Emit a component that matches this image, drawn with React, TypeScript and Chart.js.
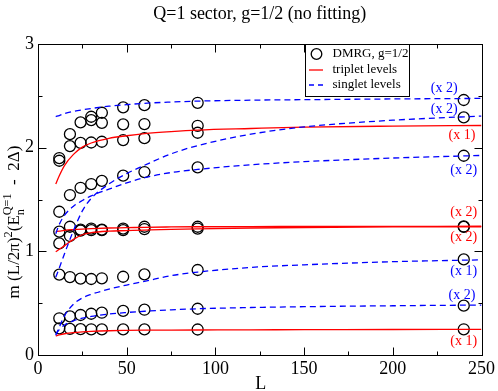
import React, { useEffect, useRef } from "react";
import { Chart, registerables } from "chart.js";

Chart.register(...registerables);

// ---------- data ----------
const titleText = "Q=1 sector, g=1/2 (no fitting)";
const xAxisTitle = "L";
const xTickValues = [0, 50, 100, 150, 200, 250];
const yTickValues = [0, 1, 2, 3];

// DMRG data (circles)
const dmrgL = [12, 18, 24, 30, 36, 48, 60, 90, 240];
const dmrgLevel1 = [0.257, 0.252, 0.249, 0.248, 0.247, 0.247, 0.247, 0.246, 0.248];
const dmrgLevel2 = [0.354, 0.372, 0.386, 0.398, 0.408, 0.425, 0.437, 0.446, 0.476];
const dmrgLevel3 = [0.776, 0.752, 0.737, 0.733, 0.74, 0.755, 0.778, 0.82, 0.922];
const dmrgLevel4 = [1.077, 1.148, 1.2, 1.205, 1.205, 1.205, 1.215, 1.22, 1.235];
const dmrgLevel5 = [1.19, 1.237, 1.21, 1.22, 1.21, 1.22, 1.237, 1.237, 1.24];
const dmrgLevel6 = [1.382, 1.543, 1.613, 1.649, 1.68, 1.73, 1.765, 1.81, 1.922];
const dmrgLevel7 = [1.874, 2.015, 2.046, 2.05, 2.057, 2.073, 2.092, 2.144, 2.292];
const dmrgLevel8 = [1.9, 2.13, 2.244, 2.266, 2.24, 2.225, 2.228, 2.211, null];
const dmrgLevel9 = [null, null, null, 2.298, 2.337, 2.389, 2.41, 2.433, 2.46];

// theory curves, sampled at curveL
const curveL = [10, 12, 15, 20, 25, 30, 40, 50, 60, 75, 90, 120, 150, 200, 250];
const triplet1 = [0.184, 0.194, 0.205, 0.216, 0.223, 0.228, 0.234, 0.237, 0.239, 0.24, 0.241, 0.243, 0.244, 0.246, 0.247];
const triplet2 = [0.996, 1.02, 1.055, 1.115, 1.16, 1.18, 1.195, 1.2, 1.205, 1.212, 1.217, 1.225, 1.23, 1.235, 1.237];
const triplet3 = [1.19, 1.195, 1.203, 1.21, 1.215, 1.219, 1.225, 1.228, 1.232, 1.235, 1.237, 1.239, 1.24, 1.241, 1.242];
const triplet4 = [1.65, 1.73, 1.83, 1.935, 2.005, 2.045, 2.09, 2.115, 2.135, 2.155, 2.17, 2.185, 2.198, 2.208, 2.214];
const singlet1 = [0.2, 0.245, 0.29, 0.33, 0.355, 0.372, 0.395, 0.41, 0.422, 0.436, 0.446, 0.458, 0.466, 0.475, 0.482];
const singlet2 = [0.19, 0.27, 0.38, 0.49, 0.55, 0.585, 0.635, 0.675, 0.71, 0.765, 0.8, 0.845, 0.87, 0.9, 0.918];
const singlet3 = [1.17, 1.26, 1.35, 1.435, 1.49, 1.535, 1.6, 1.66, 1.71, 1.76, 1.79, 1.835, 1.865, 1.9, 1.925];
const singlet4 = [0.75, 0.84, 0.98, 1.2, 1.39, 1.51, 1.65, 1.75, 1.83, 1.94, 2.02, 2.13, 2.2, 2.265, 2.305];
const singlet5 = [2.3, 2.31, 2.33, 2.35, 2.365, 2.378, 2.4, 2.415, 2.428, 2.44, 2.449, 2.458, 2.463, 2.47, 2.475];

// degeneracy annotations
const degText = ["(x 2)", "(x 2)", "(x 1)", "(x 2)", "(x 2)", "(x 2)", "(x 1)", "(x 2)", "(x 1)"];
const degKind = ["s", "s", "t", "s", "t", "t", "s", "s", "t"];
const degL = [229, 229, 239, 240, 240, 240, 240, 239, 240];
const degY = [2.575, 2.372, 2.12, 1.784, 1.376, 1.131, 0.81, 0.572, 0.128];

const legendLabels = ["DMRG, g=1/2", "triplet levels", "singlet levels"];

const RED = "#ff0000";
const BLUE = "#0000ff";
const SERIF = "'Liberation Serif', 'Times New Roman', serif";

function pts(xs: number[], ys: (number | null)[]) {
  const out: { x: number; y: number }[] = [];
  ys.forEach((v, i) => {
    if (v !== null && v !== undefined) out.push({ x: xs[i], y: v });
  });
  return out;
}

const decorPlugin = {
  id: "decor",
  afterDatasetsDraw(chart: any) {
    const ctx = chart.ctx as CanvasRenderingContext2D;
    const a = chart.chartArea;
    const xs = chart.scales.x;
    const ys = chart.scales.y;
    ctx.save();

    // degeneracy labels
    ctx.font = `14px ${SERIF}`;
    ctx.textAlign = "center";
    ctx.textBaseline = "middle";
    degText.forEach((t, i) => {
      ctx.fillStyle = degKind[i] === "s" ? BLUE : RED;
      ctx.fillText(t, xs.getPixelForValue(degL[i]), ys.getPixelForValue(degY[i]));
    });

    // frame
    ctx.strokeStyle = "#000";
    ctx.lineWidth = 1;
    const L = Math.round(a.left) + 0.5;
    const R = Math.round(a.right) + 0.5;
    const T = Math.round(a.top) + 0.5;
    const B = Math.round(a.bottom) + 0.5;
    ctx.strokeRect(L, T, R - L, B - T);

    // ticks (inward)
    ctx.beginPath();
    for (let v = 25; v < 250; v += 25) {
      const len = v % 50 === 0 ? 8 : 4;
      const px = Math.round(xs.getPixelForValue(v)) + 0.5;
      ctx.moveTo(px, B);
      ctx.lineTo(px, B - len);
      ctx.moveTo(px, T);
      ctx.lineTo(px, T + len);
    }
    for (let v = 0.5; v < 3; v += 0.5) {
      const len = Math.abs(v - Math.round(v)) < 1e-6 ? 8 : 4;
      const py = Math.round(ys.getPixelForValue(v)) + 0.5;
      ctx.moveTo(L, py);
      ctx.lineTo(L + len, py);
      ctx.moveTo(R, py);
      ctx.lineTo(R - len, py);
    }
    ctx.stroke();

    // legend box
    const bx = a.left + 267;
    const by = a.top;
    const bw = 104;
    const bh = 52;
    ctx.fillStyle = "#fff";
    ctx.fillRect(bx, by, bw, bh);
    ctx.strokeRect(Math.round(bx) + 0.5, Math.round(by) + 0.5, bw, bh);
    ctx.font = `13px ${SERIF}`;
    ctx.textAlign = "left";
    ctx.textBaseline = "middle";
    ctx.fillStyle = "#000";
    const rows = [by + 10, by + 26, by + 41];
    ctx.beginPath();
    ctx.arc(bx + 11.5, rows[0], 5.3, 0, Math.PI * 2);
    ctx.lineWidth = 1.3;
    ctx.strokeStyle = "#000";
    ctx.stroke();
    ctx.fillText(legendLabels[0], bx + 27.5, rows[0]);
    ctx.beginPath();
    ctx.strokeStyle = RED;
    ctx.lineWidth = 1.3;
    ctx.moveTo(bx + 4, rows[1]);
    ctx.lineTo(bx + 18, rows[1]);
    ctx.stroke();
    ctx.fillText(legendLabels[1], bx + 27.5, rows[1]);
    ctx.beginPath();
    ctx.strokeStyle = BLUE;
    ctx.setLineDash([5, 4]);
    ctx.moveTo(bx + 4, rows[2]);
    ctx.lineTo(bx + 18, rows[2]);
    ctx.stroke();
    ctx.setLineDash([]);
    ctx.fillText(legendLabels[2], bx + 27.5, rows[2]);

    // title
    ctx.fillStyle = "#000";
    ctx.font = `18px ${SERIF}`;
    ctx.textAlign = "center";
    ctx.textBaseline = "middle";
    ctx.fillText(titleText, (a.left + a.right) / 2, 14);

    // x title
    ctx.fillText(xAxisTitle, (a.left + a.right) / 2 + 1, 384);

    // y title with sub/superscripts
    const fs = 17;
    const segs: { t: string; s: number; dy: number; stack?: boolean }[] = [
      { t: "m (L/2\u03c0)", s: 1, dy: 0 },
      { t: "2", s: 0.72, dy: -0.42 },
      { t: "(E", s: 1, dy: 0 },
      { t: "n", s: 0.72, dy: 0.28, stack: true },
      { t: "Q=1", s: 0.72, dy: -0.45 },
      { t: "  -  2\u0394)", s: 1, dy: 0 },
    ];
    let total = 0;
    const widths: number[] = [];
    segs.forEach((sg) => {
      ctx.font = `${fs * sg.s}px ${SERIF}`;
      widths.push(ctx.measureText(sg.t).width);
    });
    segs.forEach((sg, i) => {
      if (sg.stack) return;
      if (i > 0 && segs[i - 1].stack) total += Math.max(widths[i - 1], widths[i]);
      else total += widths[i];
    });
    ctx.save();
    ctx.translate(19, 222);
    ctx.rotate(-Math.PI / 2);
    ctx.textAlign = "left";
    ctx.textBaseline = "alphabetic";
    let cx = -total / 2;
    segs.forEach((sg, i) => {
      ctx.font = `${fs * sg.s}px ${SERIF}`;
      ctx.fillText(sg.t, cx, sg.dy * fs);
      if (sg.stack) return;
      if (i > 0 && segs[i - 1].stack) cx += Math.max(widths[i - 1], widths[i]);
      else cx += widths[i];
    });
    ctx.restore();

    ctx.restore();
  },
};

function lineDs(values: number[], color: string, dashed: boolean) {
  return {
    type: "scatter" as const,
    data: pts(curveL, values),
    showLine: true,
    borderColor: color,
    backgroundColor: color,
    borderWidth: 1.3,
    borderDash: dashed ? [6, 4] : [],
    pointRadius: 0,
    cubicInterpolationMode: "monotone" as const,
  };
}

export default function App() {
  const ref = useRef<HTMLCanvasElement | null>(null);

  useEffect(() => {
    if (!ref.current) return;
    const circles = [
      dmrgLevel1, dmrgLevel2, dmrgLevel3, dmrgLevel4, dmrgLevel5,
      dmrgLevel6, dmrgLevel7, dmrgLevel8, dmrgLevel9,
    ].flatMap((lv) => pts(dmrgL, lv));

    const chart = new Chart(ref.current, {
      type: "scatter",
      data: {
        datasets: [
          lineDs(singlet1, BLUE, true),
          lineDs(singlet2, BLUE, true),
          lineDs(singlet3, BLUE, true),
          lineDs(singlet4, BLUE, true),
          lineDs(singlet5, BLUE, true),
          lineDs(triplet1, RED, false),
          lineDs(triplet2, RED, false),
          lineDs(triplet3, RED, false),
          lineDs(triplet4, RED, false),
          {
            type: "scatter" as const,
            data: circles,
            showLine: false,
            pointStyle: "circle",
            pointRadius: 5.5,
            pointBorderWidth: 1.3,
            pointBorderColor: "#000",
            pointBackgroundColor: "rgba(0,0,0,0)",
            borderColor: "#000",
            backgroundColor: "rgba(0,0,0,0)",
          },
        ],
      },
      options: {
        animation: false,
        responsive: false,
        layout: { padding: { left: 0, right: 14, top: 44, bottom: 0 } },
        plugins: {
          legend: { display: false },
          title: { display: false },
          tooltip: { enabled: false },
        },
        scales: {
          x: {
            type: "linear",
            min: 0,
            max: 250,
            afterFit: (s: any) => {
              s.height = 36;
            },
            afterBuildTicks: (s: any) => {
              s.ticks = xTickValues.map((v) => ({ value: v }));
            },
            grid: { display: false, drawTicks: false },
            border: { display: false },
            ticks: {
              color: "#000",
              padding: 3,
              maxRotation: 0,
              autoSkip: false,
              font: { family: SERIF, size: 18 },
            },
          },
          y: {
            type: "linear",
            min: 0,
            max: 3,
            afterFit: (s: any) => {
              s.width = 38;
            },
            afterBuildTicks: (s: any) => {
              s.ticks = yTickValues.map((v) => ({ value: v }));
            },
            grid: { display: false, drawTicks: false },
            border: { display: false },
            ticks: {
              color: "#000",
              padding: 4,
              autoSkip: false,
              font: { family: SERIF, size: 18 },
            },
          },
        },
      },
      plugins: [decorPlugin],
    } as any);
    return () => chart.destroy();
  }, []);

  return (
    <div style={{ position: "fixed", left: 0, top: 0, width: 498, height: 391, background: "#fff" }}>
      <canvas ref={ref} width={498} height={391} style={{ display: "block", width: 498, height: 391 }} />
    </div>
  );
}
